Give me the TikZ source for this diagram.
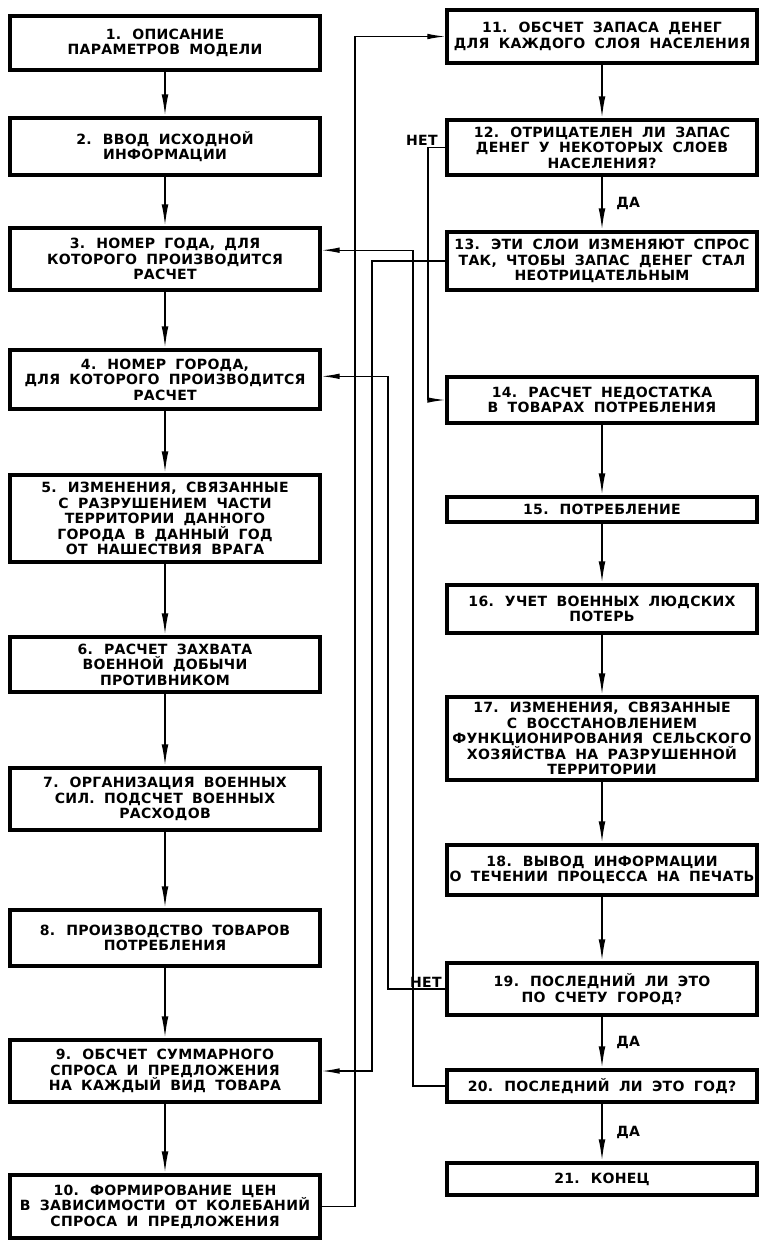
\documentclass[tikz,border=0pt]{standalone}
\usepackage{fontspec}
\newfontfamily\blockfont{DejaVu Sans}[LetterSpace=2,WordSpace=1.8]
\usetikzlibrary{arrows.meta, positioning, calc}

\begin{document}
\begin{tikzpicture}[
  block/.style={draw, line width=2.4pt, minimum width=7.75cm, inner sep=0pt, align=center,
    font=\blockfont\bfseries\fontsize{10}{11}\selectfont},
  answer/.style={inner sep=1pt, font=\blockfont\bfseries\fontsize{10}{11}\selectfont},
  flow/.style={-{Latex[length=0.55cm, width=0.17cm]}, line width=1.3pt},
  back/.style={-{Latex[length=0.45cm, width=0.14cm]}, line width=0.9pt},
]
  \useasboundingbox (0,0) rectangle (19.025,-31.075);

  % Left column: steps 1-10
  \node[block, minimum height=1.35cm] (s1) at (4.125,-1.075) {1. ОПИСАНИЕ\\ПАРАМЕТРОВ МОДЕЛИ};
  \node[block, minimum height=1.425cm] (s2) at (4.125,-3.6625) {2. ВВОД ИСХОДНОЙ\\ИНФОРМАЦИИ};
  \node[block, minimum height=1.55cm] (s3) at (4.125,-6.475) {3. НОМЕР ГОДА, ДЛЯ\\КОТОРОГО ПРОИЗВОДИТСЯ\\РАСЧЕТ};
  \node[block, minimum height=1.475cm] (s4) at (4.125,-9.4875) {4. НОМЕР ГОРОДА,\\ДЛЯ КОТОРОГО ПРОИЗВОДИТСЯ\\РАСЧЕТ};
  \node[block, minimum height=2.175cm] (s5) at (4.125,-12.9625) {5. ИЗМЕНЕНИЯ, СВЯЗАННЫЕ\\С РАЗРУШЕНИЕМ ЧАСТИ\\ТЕРРИТОРИИ ДАННОГО\\ГОРОДА В ДАННЫЙ ГОД\\ОТ НАШЕСТВИЯ ВРАГА};
  \node[block, minimum height=1.375cm] (s6) at (4.125,-16.6125) {6. РАСЧЕТ ЗАХВАТА\\ВОЕННОЙ ДОБЫЧИ\\ПРОТИВНИКОМ};
  \node[block, minimum height=1.55cm] (s7) at (4.125,-19.975) {7. ОРГАНИЗАЦИЯ ВОЕННЫХ\\СИЛ. ПОДСЧЕТ ВОЕННЫХ\\РАСХОДОВ};
  \node[block, minimum height=1.4cm] (s8) at (4.125,-23.45) {8. ПРОИЗВОДСТВО ТОВАРОВ\\ПОТРЕБЛЕНИЯ};
  \node[block, minimum height=1.55cm] (s9) at (4.125,-26.775) {9. ОБСЧЕТ СУММАРНОГО\\СПРОСА И ПРЕДЛОЖЕНИЯ\\НА КАЖДЫЙ ВИД ТОВАРА};
  \node[block, minimum height=1.575cm] (s10) at (4.125,-30.1625) {10. ФОРМИРОВАНИЕ ЦЕН\\В ЗАВИСИМОСТИ ОТ КОЛЕБАНИЙ\\СПРОСА И ПРЕДЛОЖЕНИЯ};

  % Right column: steps 11-21
  \node[block, minimum height=1.325cm] (s11) at (15.05,-0.9125) {11. ОБСЧЕТ ЗАПАСА ДЕНЕГ\\ДЛЯ КАЖДОГО СЛОЯ НАСЕЛЕНИЯ};
  \node[block, minimum height=1.375cm] (s12) at (15.05,-3.6875) {12. ОТРИЦАТЕЛЕН ЛИ ЗАПАС\\ДЕНЕГ У НЕКОТОРЫХ СЛОЕВ\\НАСЕЛЕНИЯ?};
  \node[block, minimum height=1.45cm] (s13) at (15.05,-6.525) {13. ЭТИ СЛОИ ИЗМЕНЯЮТ СПРОС\\ТАК, ЧТОБЫ ЗАПАС ДЕНЕГ СТАЛ\\НЕОТРИЦАТЕЛЬНЫМ};
  \node[block, minimum height=1.15cm] (s14) at (15.05,-10.0) {14. РАСЧЕТ НЕДОСТАТКА\\В ТОВАРАХ ПОТРЕБЛЕНИЯ};
  \node[block, minimum height=0.625cm] (s15) at (15.05,-12.7375) {15. ПОТРЕБЛЕНИЕ};
  \node[block, minimum height=1.2cm] (s16) at (15.05,-15.225) {16. УЧЕТ ВОЕННЫХ ЛЮДСКИХ\\ПОТЕРЬ};
  \node[block, minimum height=2.075cm] (s17) at (15.05,-18.4625) {17. ИЗМЕНЕНИЯ, СВЯЗАННЫЕ\\С ВОССТАНОВЛЕНИЕМ\\ФУНКЦИОНИРОВАНИЯ СЕЛЬСКОГО\\ХОЗЯЙСТВА НА РАЗРУШЕННОЙ\\ТЕРРИТОРИИ};
  \node[block, minimum height=1.25cm] (s18) at (15.05,-21.75) {18. ВЫВОД ИНФОРМАЦИИ\\О ТЕЧЕНИИ ПРОЦЕССА НА ПЕЧАТЬ};
  \node[block, minimum height=1.3cm] (s19) at (15.05,-24.725) {19. ПОСЛЕДНИЙ ЛИ ЭТО\\ПО СЧЕТУ ГОРОД?};
  \node[block, minimum height=0.8cm] (s20) at (15.05,-27.15) {20. ПОСЛЕДНИЙ ЛИ ЭТО ГОД?};
  \node[block, minimum height=0.8cm] (s21) at (15.05,-29.475) {21. КОНЕЦ};

  % Vertical lines in the gap between the columns
  \coordinate (busA) at (8.875,0);
  \coordinate (busB) at (9.3,0);
  \coordinate (busC) at (9.7,0);
  \coordinate (busD) at (10.325,0);
  \coordinate (busE) at (10.7,0);

  % Straight flow down each column
  \foreach \a/\b in {1/2, 2/3, 3/4, 4/5, 5/6, 6/7, 7/8, 8/9, 9/10,
                     11/12, 14/15, 15/16, 16/17, 17/18, 18/19}
    \draw[flow] (s\a) -- (s\b);
  \draw[flow] (s12) -- node[answer, right=0.3cm] (yes12) {ДА} (s13);
  \draw[flow] (s19) -- node[answer, right=0.3cm] (yes19) {ДА} (s20);
  \draw[flow] (s20) -- node[answer, right=0.3cm] (yes20) {ДА} (s21);

  % Returns and jumps
  \draw[back] (s10) -- (s10 -| busA) |- (s11);
  \draw[back] (s12) -- (s12 -| busE) |- (s14);
  \node[answer, above left=0.02cm and 0.15cm of s12.west] (no12) {НЕТ};
  \draw[back] (s13) -- (s13 -| busB) |- (s9);
  \draw[back] (s19) -- (s19 -| busC) |- ([yshift=0.08cm]s4.east);
  \node[answer, above left=0cm and 0.05cm of s19.west] (no19) {НЕТ};
  \draw[back] (s20) -- (s20 -| busD) |- ([yshift=0.22cm]s3.east);
\end{tikzpicture}
\end{document}
